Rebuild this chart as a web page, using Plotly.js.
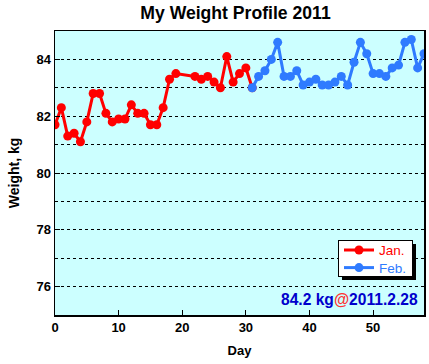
<!DOCTYPE html>
<html><head><meta charset="utf-8">
<script src="https://cdn.plot.ly/plotly-3.0.1.min.js"></script>
<style>body{margin:0;padding:0;background:#fff}</style>
</head><body>
<div id="chart" style="width:429px;height:364px"></div>
<script>
const janDays = [0,1,2,3,4,5,6,7,8,9,10,11,12,13,14,15,16,17,18,19,22,23,24,25,26,27,28,29,30,31];
const janWeights = [81.7,82.3,81.3,81.4,81.1,81.8,82.8,82.8,82.1,81.8,81.9,81.9,82.4,82.1,82.1,81.7,81.7,82.3,83.3,83.5,83.4,83.3,83.4,83.2,83.0,84.1,83.2,83.5,83.7,83.0];
const febDays = [31,32,33,34,35,36,37,38,39,40,41,42,43,44,45,46,47,48,49,50,51,52,53,54,55,56,57,58];
const febWeights = [83.0,83.4,83.6,84.0,84.6,83.4,83.4,83.6,83.1,83.2,83.3,83.1,83.1,83.2,83.4,83.1,83.9,84.6,84.2,83.5,83.5,83.4,83.7,83.8,84.6,84.7,83.7,84.2];
const latestLabel = ['84.2 kg','@','2011.2.28'];

const RED = '#ff0000', BLUE = '#2f7bff';
const FONT = 'Liberation Sans, Arial, sans-serif';

const traces = [
  {x: janDays, y: janWeights, type:'scatter', mode:'lines+markers', name:'<span style="color:#ff0000">Jan.</span>',
   line:{color:RED, width:3}, marker:{color:RED, size:9}},
  {x: febDays, y: febWeights, type:'scatter', mode:'lines+markers', name:'<span style="color:#2f7bff">Feb.</span>',
   line:{color:BLUE, width:3}, marker:{color:BLUE, size:9}}
];

const L=55, R=5, T=31, B=49, W=429, H=364;
const pw = W-L-R, ph = H-T-B;
function px(x){return (x-L)/pw;}
function py(y){return (H-B-y)/ph;}

const layout = {
  width: W, height: H,
  margin:{l:L, r:R, t:T, b:B, pad:0},
  paper_bgcolor:'#ffffff', plot_bgcolor:'#ccffff',
  font:{family:FONT, size:13, color:'#000'},
  title:{text:'<b>My Weight Profile 2011</b>', font:{family:FONT, size:17.6, color:'#000'}, xref:'container', x:235.5/W, xanchor:'center', y:1-13/H, yanchor:'middle'},
  showlegend:true,
  legend:{x:px(338), y:py(240), xanchor:'left', yanchor:'top', bgcolor:'#ffffff', bordercolor:'#000', borderwidth:1,
          font:{family:FONT, size:13.5}, tracegroupgap:0, itemwidth:30},
  xaxis:{range:[0,58], dtick:10, tick0:0, ticks:'inside', ticklen:5, tickwidth:1, tickcolor:'#000',
         showline:true, linecolor:'#000', linewidth:1.5, mirror:true, showgrid:false, zeroline:false,
         tickfont:{family:FONT, size:13, color:'#000', weight:'bold'},
         title:{text:'<b>Day</b>', font:{family:FONT, size:13}, standoff:12}},
  yaxis:{range:[75,85], dtick:2, tick0:76, ticks:'inside', ticklen:5, tickwidth:1, tickcolor:'#000',
         showline:true, linecolor:'#000', linewidth:1.5, mirror:true, zeroline:false,
         showgrid:true, gridcolor:'#000', gridwidth:1, griddash:'dot',
         minor:{dtick:1, tick0:75, ticks:'inside', ticklen:3, tickcolor:'#000', showgrid:true, gridcolor:'#000', gridwidth:1, griddash:'dot'},
         tickfont:{family:FONT, size:13, color:'#000', weight:'bold'},
         title:{text:'<b>Weight, kg</b>', font:{family:FONT, size:14}, standoff:13}},
  annotations:[
    {xref:'paper', yref:'paper', x:1-4/pw, y:py(299), xanchor:'right', yanchor:'middle', showarrow:false,
     text:'<b><span style="color:#0000cc">'+latestLabel[0]+'</span><span style="color:#ff3333">'+latestLabel[1]+'</span><span style="color:#0000cc">'+latestLabel[2]+'</span></b>',
     font:{family:FONT, size:15.6}}
  ]
};
Plotly.newPlot('chart', traces, layout, {displayModeBar:false, staticPlot:true}).then(function(){
  const leg = document.querySelector('.legend');
  if (!leg) return;
  const bg = leg.querySelector('rect.bg');
  const items = leg.querySelectorAll('g.traces');
  items.forEach(function(g, i){
    const t = g.getAttribute('transform') || '';
    const m = /translate\(\s*([-\d.eE]+)/.exec(t);
    const x = m ? m[1] : 0;
    g.setAttribute('transform', 'translate(' + x + ',' + (10 + i*17.6) + ')');
  });
  if (bg) {
    bg.setAttribute('height', 36);
    const sh = bg.cloneNode(false);
    sh.setAttribute('class', 'shadow');
    sh.style.fill = '#000'; sh.style.stroke = 'none';
    sh.setAttribute('fill', '#000');
    sh.setAttribute('transform', 'translate(3,3)');
    bg.parentNode.insertBefore(sh, bg);
  }
});
</script>
</body></html>
